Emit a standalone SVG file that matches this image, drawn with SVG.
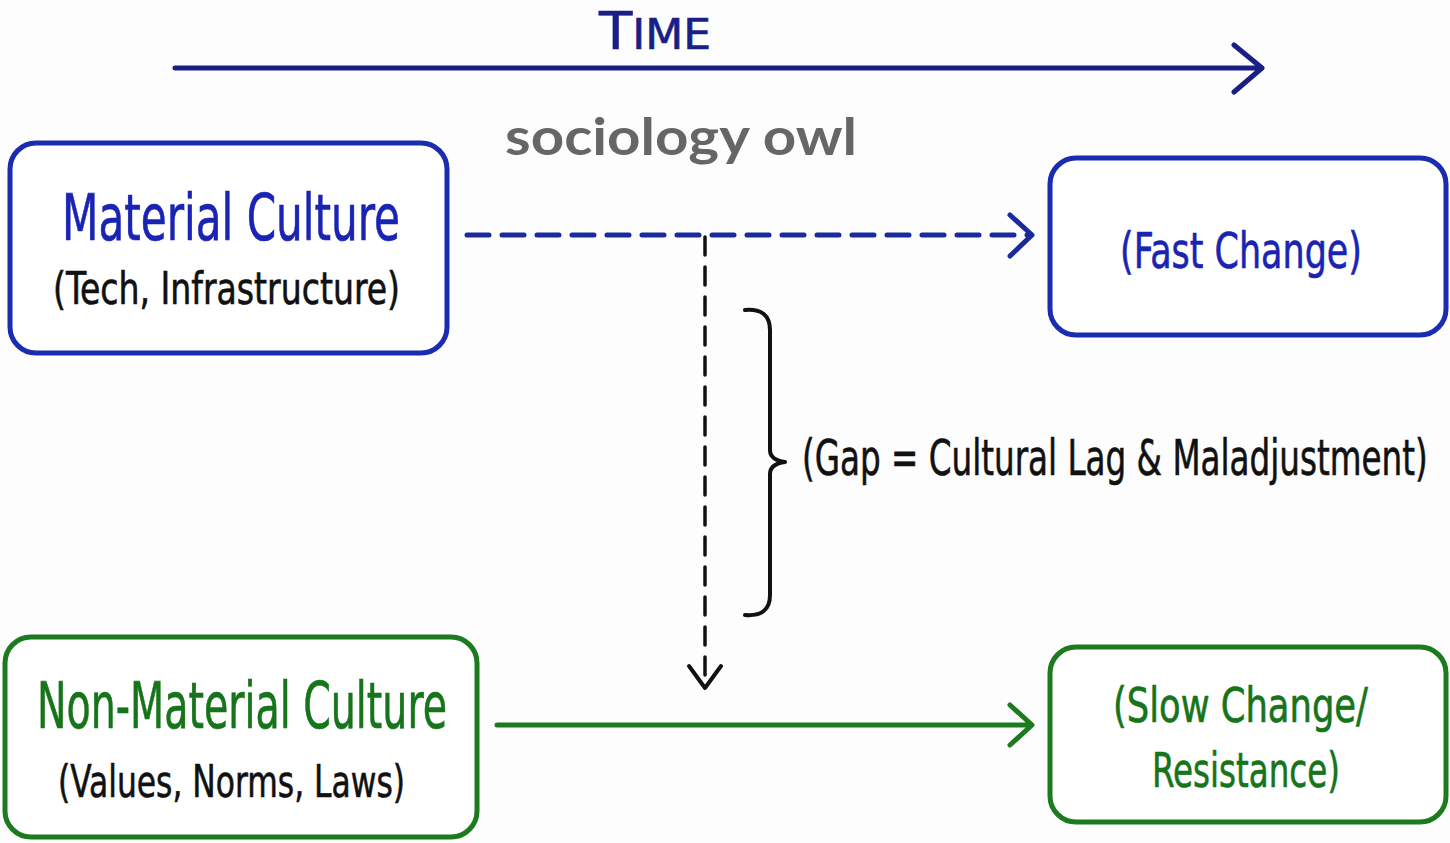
<svg xmlns="http://www.w3.org/2000/svg" width="1450" height="843" viewBox="0 0 1450 843">
  <defs>
    <style>
      .hand { font-family: "Liberation Sans Narrow", "DejaVu Sans Condensed", "Liberation Sans", sans-serif; stroke-width: 0.6; }
      .blue { fill: #1a24b4; stroke: #1a24b4; }
      .navy { fill: #1a1f86; stroke: #1a1f86; }
      .green { fill: #16741a; stroke: #16741a; }
      .ink { fill: #111111; stroke: #111111; }
      .box-blue { fill: #ffffff; stroke: #1a2cb0; stroke-width: 5; }
      .box-green { fill: #ffffff; stroke: #1c7a1f; stroke-width: 5; }
      .line { fill: none; stroke-linecap: round; stroke-linejoin: round; }
    </style>
  </defs>

  <rect width="1450" height="843" fill="#fdfdfd"/>

  <!-- timeline -->
  <g id="timeline">
    <text class="hand navy" x="655" y="49" text-anchor="middle" font-size="52" textLength="112" lengthAdjust="spacingAndGlyphs">T<tspan font-size="42">IME</tspan></text>
    <path class="line" d="M175 68 L1262 68 M1234 45 L1262 68 L1234 92" stroke="#1a1f86" stroke-width="5"/>
  </g>

  <!-- watermark -->
  <text id="brand" x="681" y="155" text-anchor="middle" font-family="Lato, 'Open Sans', sans-serif" font-weight="700" font-size="52" fill="#666666" textLength="352" lengthAdjust="spacingAndGlyphs">sociology owl</text>

  <!-- connectors -->
  <g id="connectors">
    <path class="line" d="M467 235 L1028 235" stroke="#1a2a9c" stroke-width="5" stroke-dasharray="22 13" stroke-linecap="butt"/>
    <path class="line" d="M1010 215 L1032 235 L1010 256" stroke="#1a2a9c" stroke-width="5"/>
    <path class="line" d="M705 237 L705 684" stroke="#111111" stroke-width="3.5" stroke-dasharray="18 12" stroke-linecap="butt"/>
    <path class="line" d="M689 666 L705 688 L721 666" stroke="#111111" stroke-width="4"/>
    <path class="line" d="M497 725 L1030 725 M1010 705 L1032 725 L1010 745" stroke="#1c7a1f" stroke-width="5"/>
    <!-- brace marking the lag -->
    <path class="line" d="M745 310 Q770 308 770 330 L770 450 Q770 460 785 462 Q770 464 770 474 L770 595 Q770 617 745 615" stroke="#111111" stroke-width="4"/>
  </g>

  <g id="gap-label">
    <text class="hand ink" transform="translate(802 475) scale(0.725 1)" x="0" y="0" font-size="50">(Gap = Cultural Lag &amp; Maladjustment)</text>
  </g>

  <g id="material">
    <rect class="box-blue" x="10" y="143" width="437" height="210" rx="26"/>
    <text class="hand blue" x="62" y="240" font-size="64" textLength="338" lengthAdjust="spacingAndGlyphs">Material Culture</text>
    <text class="hand ink" x="53" y="304" font-size="44" textLength="347" lengthAdjust="spacingAndGlyphs">(Tech, Infrastructure)</text>
  </g>

  <g id="fast">
    <rect class="box-blue" x="1050" y="158" width="396" height="177" rx="26"/>
    <text class="hand blue" x="1120" y="268" font-size="50" textLength="242" lengthAdjust="spacingAndGlyphs">(Fast Change)</text>
  </g>

  <g id="nonmaterial">
    <rect class="box-green" x="5" y="637" width="472" height="200" rx="26"/>
    <text class="hand green" x="37" y="728" font-size="64" textLength="410" lengthAdjust="spacingAndGlyphs">Non-Material Culture</text>
    <text class="hand ink" x="58" y="797" font-size="44" textLength="347" lengthAdjust="spacingAndGlyphs">(Values, Norms, Laws)</text>
  </g>

  <g id="slow">
    <rect class="box-green" x="1050" y="647" width="396" height="175" rx="26"/>
    <text class="hand green" x="1113" y="722" font-size="48" textLength="255" lengthAdjust="spacingAndGlyphs">(Slow Change/</text>
    <text class="hand green" x="1152" y="787" font-size="48" textLength="188" lengthAdjust="spacingAndGlyphs">Resistance)</text>
  </g>
</svg>
